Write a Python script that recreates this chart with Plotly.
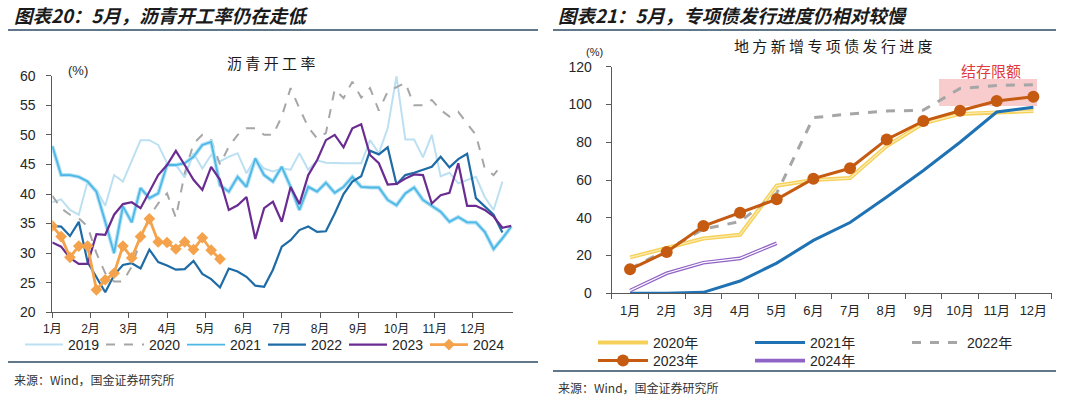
import plotly.graph_objects as go

# ---------------- Left chart data (weekly, 沥青开工率 %) ----------------
month_labels = ["1月", "2月", "3月", "4月", "5月", "6月", "7月", "8月", "9月", "10月", "11月", "12月"]

asphalt_2019 = [38.6, 39.1, 37.3, 36.5, 42.1, 40.7, 38.0, 43.2, 42.1, 45.7, 49.1, 49.1, 48.3, 45.2, 44.9,
                42.8, 46.9, 44.3, 46.6, 45.5, 46.3, 46.9, 43.5, 46.0, 44.3, 43.8, 44.3, 44.1, 46.9, 44.1,
                45.7, 45.3, 45.2, 45.2, 45.2, 45.2, 49.1, 46.9, 51.1, 59.9, 49.2, 49.2, 46.2, 50.0, 43.0,
                43.6, 41.8, 42.4, 42.9, 39.5, 37.3, 42.1]
asphalt_2020 = [39.7, 37.6, 36.5, 35.9, 34.5, 30.0, 26.6, 25.2, 25.2, 27.7, 32.2, 36.2, 38.4, 40.1, 36.0,
                43.5, 48.5, 50.0, 49.1, 45.0, 48.0, 50.0, 51.1, 51.1, 50.0, 50.0, 53.1, 57.9, 54.5, 51.3,
                49.4, 50.3, 57.7, 56.2, 59.0, 56.3, 57.9, 54.1, 57.3, 58.1, 58.8, 55.0, 55.0, 55.9, 54.2,
                53.1, 53.9, 51.9, 50.0, 44.3, 43.2, 45.0]
asphalt_2021 = [48.1, 43.2, 43.2, 42.9, 42.1, 40.4, 35.3, 30.0, 37.9, 35.2, 41.0, 39.3, 40.1, 44.9, 44.9,
                45.2, 46.3, 48.3, 48.8, 41.5, 40.4, 42.9, 41.2, 46.0, 43.2, 42.1, 44.6, 41.2, 37.3, 41.2,
                40.4, 41.9, 40.2, 41.2, 42.9, 41.2, 41.1, 41.1, 39.0, 38.1, 40.1, 41.1, 39.0, 38.0, 37.0,
                35.3, 36.1, 35.2, 35.2, 33.6, 30.7, 32.5, 34.5]
asphalt_2022 = [34.6, 34.5, 32.9, 35.3, 28.5, 26.0, 23.4, 26.3, 28.0, 28.3, 27.4, 30.6, 28.5, 27.9, 27.2,
                27.3, 28.7, 26.5, 25.6, 24.2, 27.4, 26.9, 26.0, 24.5, 24.3, 27.2, 31.1, 32.2, 33.9, 34.5,
                33.6, 33.7, 36.7, 40.0, 42.1, 43.0, 47.3, 46.7, 47.9, 41.6, 43.2, 43.6, 44.1, 44.6, 46.3,
                44.5, 45.9, 46.8, 39.3, 37.9, 36.5, 33.5]
asphalt_2023 = [31.8, 31.1, 29.2, 28.2, 28.2, 33.2, 33.1, 36.5, 38.3, 38.6, 37.6, 40.4, 43.2, 44.9, 47.3,
                44.9, 42.4, 40.7, 44.6, 42.4, 37.3, 38.1, 39.5, 32.4, 37.6, 38.7, 35.3, 41.2, 38.3, 43.2,
                45.7, 49.1, 50.0, 47.9, 51.1, 51.8, 46.6, 45.2, 41.6, 41.7, 42.6, 43.3, 43.2, 38.4, 39.8,
                40.2, 45.2, 38.0, 38.0, 37.3, 36.2, 34.3, 34.6]
asphalt_2024 = [34.6, 32.8, 29.3, 31.2, 31.2, 23.8, 25.5, 26.6, 31.2, 29.2, 32.8, 35.8, 31.9, 31.8, 30.7,
                31.9, 30.6, 32.6, 30.5, 29.0]

# ---------------- Right chart data (地方新增专项债发行进度 %) ----------------
bond_months = ["1月", "2月", "3月", "4月", "5月", "6月", "7月", "8月", "9月", "10月", "11月", "12月"]
bond_2020 = [19.0, 24.0, 29.0, 31.0, 57.0, 60.0, 61.0, 78.0, 90.0, 95.0, 96.0, 96.5]
bond_2021 = [0.0, 0.0, 0.5, 6.5, 16.0, 28.0, 37.5, 51.0, 65.0, 80.0, 96.0, 98.5]
bond_2022 = [13.0, 23.0, 34.0, 38.0, 53.0, 93.0, 95.0, 96.5, 97.0, 108.5, 110.0, 110.5]
bond_2023 = [12.7, 21.9, 35.6, 42.7, 49.8, 60.7, 66.2, 81.5, 91.2, 96.7, 101.8, 104.1]
bond_2024 = [1.4, 10.6, 16.2, 18.5, 26.5]

W, H = 1080, 401
FONT = "Liberation Sans, Noto Sans CJK SC, sans-serif"
CJK = "Noto Sans CJK SC, sans-serif"
AXIS_COL = "#595959"

def wk(vals):
    return list(range(len(vals)))

def px(x):
    return x / W

def py(y):
    return 1 - y / H

fig = go.Figure()

# ---- left traces ----
fig.add_trace(go.Scatter(x=wk(asphalt_2019), y=asphalt_2019, mode="lines", name="2019",
                         line=dict(color="#BCE0F2", width=2), xaxis="x", yaxis="y", legend="legend"))
fig.add_trace(go.Scatter(x=wk(asphalt_2020), y=asphalt_2020, mode="lines", name="2020",
                         line=dict(color="#A6A6A6", width=2, dash="dash"), xaxis="x", yaxis="y", legend="legend"))
fig.add_trace(go.Scatter(x=wk(asphalt_2021), y=asphalt_2021, mode="lines", showlegend=False,
                         line=dict(color="#B3E1F5", width=4), xaxis="x", yaxis="y", hoverinfo="skip"))
fig.add_trace(go.Scatter(x=wk(asphalt_2021), y=asphalt_2021, mode="lines", name="2021",
                         line=dict(color="#4DB7E6", width=1.8), xaxis="x", yaxis="y", legend="legend"))
fig.add_trace(go.Scatter(x=wk(asphalt_2022), y=asphalt_2022, mode="lines", name="2022",
                         line=dict(color="#1E6BA6", width=2.2), xaxis="x", yaxis="y", legend="legend"))
fig.add_trace(go.Scatter(x=wk(asphalt_2023), y=asphalt_2023, mode="lines", name="2023",
                         line=dict(color="#6A2C91", width=2.2), xaxis="x", yaxis="y", legend="legend"))
fig.add_trace(go.Scatter(x=wk(asphalt_2024), y=asphalt_2024, mode="lines+markers", name="2024",
                         line=dict(color="#F4A24C", width=2.8),
                         marker=dict(symbol="diamond", size=9, color="#F4A24C"),
                         xaxis="x", yaxis="y", legend="legend"))

# ---- right traces ----
fig.add_trace(go.Scatter(x=bond_months, y=bond_2020, mode="lines", name="2020年",
                         line=dict(color="#F6D15A", width=4), xaxis="x2", yaxis="y2", legend="legend2"))
fig.add_trace(go.Scatter(x=bond_months, y=bond_2020, mode="lines", showlegend=False, hoverinfo="skip",
                         line=dict(color="#FCEDB8", width=1.2), xaxis="x2", yaxis="y2"))
fig.add_trace(go.Scatter(x=bond_months, y=bond_2021, mode="lines", name="2021年",
                         line=dict(color="#1F72B4", width=3), xaxis="x2", yaxis="y2", legend="legend2"))
fig.add_trace(go.Scatter(x=bond_months, y=bond_2022, mode="lines", name="2022年",
                         line=dict(color="#A6A6A6", width=3, dash="dash"), xaxis="x2", yaxis="y2", legend="legend2"))
fig.add_trace(go.Scatter(x=bond_months, y=bond_2023, mode="lines+markers", name="2023年",
                         line=dict(color="#C55A11", width=3),
                         marker=dict(symbol="circle", size=12, color="#C55A11"),
                         xaxis="x2", yaxis="y2", legend="legend3"))
fig.add_trace(go.Scatter(x=bond_months[:len(bond_2024)], y=bond_2024, mode="lines", name="2024年",
                         line=dict(color="#9063C6", width=3.6), xaxis="x2", yaxis="y2", legend="legend3"))
fig.add_trace(go.Scatter(x=bond_months[:len(bond_2024)], y=bond_2024, mode="lines", showlegend=False,
                         hoverinfo="skip", line=dict(color="#FFFFFF", width=1.2), xaxis="x2", yaxis="y2"))

week_ticks = [i * 52 / 12 for i in range(12)]

fig.update_layout(
    width=W, height=H,
    margin=dict(l=0, r=0, t=0, b=0, autoexpand=False),
    paper_bgcolor="white", plot_bgcolor="white",
    font=dict(family=FONT, size=13, color="#262626"),
    xaxis=dict(domain=[px(52.3), px(513)], range=[0, 52.2], tickvals=week_ticks, ticktext=month_labels,
               showgrid=False, zeroline=False, showline=True, linecolor=AXIS_COL, linewidth=1,
               ticks="outside", ticklen=5, tickcolor=AXIS_COL, tickfont=dict(size=12, family=FONT),
               tickangle=0, anchor="y", fixedrange=True),
    yaxis=dict(domain=[py(312.3), py(75.7)], range=[20, 60], dtick=5, tick0=20,
               showgrid=False, zeroline=False, showline=True, linecolor=AXIS_COL, linewidth=1,
               ticks="outside", ticklen=5, tickcolor=AXIS_COL, tickfont=dict(size=14, family=FONT),
               ticklabelstandoff=8, anchor="x", fixedrange=True),
    xaxis2=dict(domain=[px(611.7), px(1051.7)], type="category", categoryorder="array",
                categoryarray=bond_months, range=[-0.5, 11.5], tickson="boundaries",
                showgrid=False, zeroline=False, showline=True, linecolor=AXIS_COL, linewidth=1,
                ticks="outside", ticklen=5, tickcolor=AXIS_COL, tickfont=dict(size=13, family=FONT),
                tickangle=0, ticklabelstandoff=5, anchor="y2", fixedrange=True),
    yaxis2=dict(domain=[py(293.3), py(66.7)], range=[0, 120], dtick=20,
                showgrid=False, zeroline=False, showline=True, linecolor=AXIS_COL, linewidth=1,
                ticks="outside", ticklen=5, tickcolor=AXIS_COL, tickfont=dict(size=14, family=FONT),
                ticklabelstandoff=11, anchor="x2", fixedrange=True),
    legend=dict(orientation="h", x=px(20), y=py(345), xanchor="left", yanchor="middle",
                font=dict(size=14, family=FONT), itemwidth=38, entrywidth=28, entrywidthmode="pixels",
                bgcolor="rgba(0,0,0,0)", borderwidth=0, tracegroupgap=0),
    legend2=dict(orientation="h", x=px(593), y=py(343), xanchor="left", yanchor="middle",
                 font=dict(size=14, family=FONT), itemwidth=50, entrywidth=92, entrywidthmode="pixels",
                 bgcolor="rgba(0,0,0,0)", borderwidth=0),
    legend3=dict(orientation="h", x=px(593), y=py(361), xanchor="left", yanchor="middle",
                 font=dict(size=14, family=FONT), itemwidth=50, entrywidth=92, entrywidthmode="pixels",
                 bgcolor="rgba(0,0,0,0)", borderwidth=0),
    showlegend=True,
)

shapes = [
    dict(type="line", xref="paper", yref="paper", x0=px(8), x1=px(538), y0=py(30), y1=py(30),
         line=dict(color="#2D4A63", width=1.5)),
    dict(type="line", xref="paper", yref="paper", x0=px(553), x1=px(1056), y0=py(30), y1=py(30),
         line=dict(color="#2D4A63", width=1.5)),
    dict(type="line", xref="paper", yref="paper", x0=px(8), x1=px(538), y0=py(362), y1=py(362),
         line=dict(color="#2D4A63", width=1.5)),
    dict(type="line", xref="paper", yref="paper", x0=px(553), x1=px(1056), y0=py(371), y1=py(371),
         line=dict(color="#2D4A63", width=1.5)),
    dict(type="rect", xref="paper", yref="paper", x0=px(939), x1=px(1037), y0=py(106), y1=py(79),
         fillcolor="rgba(240,140,145,0.45)", line=dict(width=0), layer="below"),
]
fig.update_layout(shapes=shapes)

annotations = [
    dict(text="<b><i>图表20：5月，沥青开工率仍在走低</i></b>", x=px(12), y=py(15), xanchor="left",
         yanchor="middle", font=dict(size=18.5, family=CJK, color="#1A1A1A")),
    dict(text="<b><i>图表21：5月，专项债发行进度仍相对较慢</i></b>", x=px(556), y=py(15), xanchor="left",
         yanchor="middle", font=dict(size=18.5, family=CJK, color="#1A1A1A")),
    dict(text="沥 青 开 工 率", x=px(271), y=py(62), xanchor="center", yanchor="middle",
         font=dict(size=15, family=CJK, color="#1A1A1A")),
    dict(text="地 方 新 增 专 项 债 发 行 进 度", x=px(833), y=py(46), xanchor="center", yanchor="middle",
         font=dict(size=15, family=CJK, color="#1A1A1A")),
    dict(text="(%)", x=px(78), y=py(70), xanchor="center", yanchor="middle",
         font=dict(size=13, family=FONT, color="#262626")),
    dict(text="(%)", x=px(594), y=py(52), xanchor="center", yanchor="middle",
         font=dict(size=11, family=FONT, color="#262626")),
    dict(text="结存限额", x=px(991), y=py(71), xanchor="center", yanchor="middle",
         font=dict(size=15, family=CJK, color="#E03A3E")),
    dict(text="来源：Wind，国金证券研究所", x=px(12), y=py(379), xanchor="left", yanchor="middle",
         font=dict(size=12, family=CJK, color="#333333")),
    dict(text="来源：Wind，国金证券研究所", x=px(556), y=py(387), xanchor="left", yanchor="middle",
         font=dict(size=12, family=CJK, color="#333333")),
]
for a in annotations:
    a.update(xref="paper", yref="paper", showarrow=False)
fig.update_layout(annotations=annotations)

fig.write_html("out.html", config={"displayModeBar": False},
               post_script="document.body.style.margin='0px';document.body.style.padding='0px';"
                           "document.body.style.overflow='hidden';")
